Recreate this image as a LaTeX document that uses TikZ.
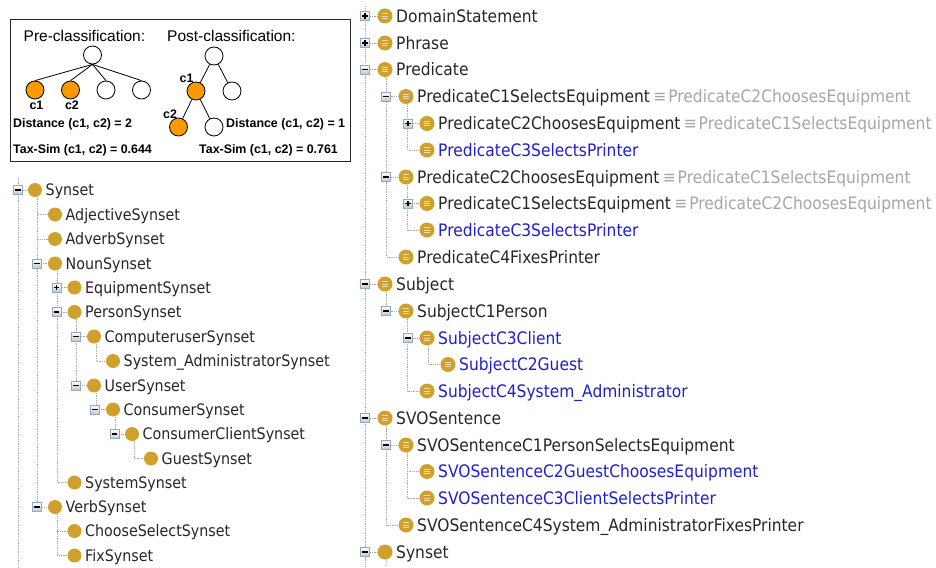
\documentclass[tikz,border=0pt]{standalone}
\usepackage{fontspec}
\setmainfont{Liberation Sans}
\newfontfamily\treefont[FakeStretch=0.9]{DejaVu Sans}
\usetikzlibrary{backgrounds}
\definecolor{gold}{HTML}{CFA02C}
\definecolor{txt}{HTML}{262626}
\definecolor{linkblue}{HTML}{1E1ED2}
\definecolor{eqgrey}{HTML}{A6A6A6}
\definecolor{treeline}{HTML}{A8A8A8}
\definecolor{boxblue}{HTML}{8FA9C4}
\definecolor{ringorange}{HTML}{FA9A00}
\tikzset{
  bul/.style={circle,fill=gold,minimum size=14pt,inner sep=0pt},
  ltext/.style={anchor=base west,inner sep=0pt,text=txt,font=\treefont\fontsize{15.85}{18}\selectfont},
  rtext/.style={anchor=base west,inner sep=0pt,text=txt,font=\treefont\fontsize{17.2}{20}\selectfont},
  expbox/.style={rectangle,draw=boxblue,line width=.8pt,top color=white,bottom color=black!22,minimum size=9pt,inner sep=0pt},
  conn/.style={draw=treeline,densely dotted,line width=.8pt},
  bar/.style={line width=1.5pt,black},
  ring/.style={circle,draw=black,line width=.8pt,minimum size=18pt,inner sep=0pt},
  ringo/.style={ring,fill=ringorange},
  arm/.style={draw=black,line width=.8pt},
  ptitle/.style={anchor=base west,inner sep=0pt,font=\fontsize{15.5}{17}\selectfont},
  pbold/.style={anchor=base west,inner sep=0pt,font=\bfseries\fontsize{12.4}{14}\selectfont},
  pclab/.style={inner sep=0pt,font=\bfseries\fontsize{12.4}{14}\selectfont}
}
% expanders: name, x, y
\newcommand{\expM}[3]{\node[expbox] (#1) at (#2,#3) {};\draw[bar] ([xshift=-2.8pt]#1.center) -- ([xshift=2.8pt]#1.center);}
\newcommand{\expP}[3]{\node[expbox] (#1) at (#2,#3) {};\draw[bar] ([xshift=-2.8pt]#1.center) -- ([xshift=2.8pt]#1.center) ([yshift=-2.8pt]#1.center) -- ([yshift=2.8pt]#1.center);}
% left class: name, x, y, text
\newcommand{\lcls}[4]{\node[bul] (#1) at (#2,#3) {};\node[ltext] (#1-t) at (#2+10.5,#3+5.7) {#4};}
% right class: name, x, y, text
\newcommand{\rbul}[3]{\node[bul,minimum size=15pt] (#1) at (#2,#3) {};
  \foreach \dy in {-2.4,0,2.4}{\draw[line width=.9pt,color=gold!35!white] ([xshift=-3pt,yshift=\dy pt]#1.center) -- ([xshift=3pt,yshift=\dy pt]#1.center);}}
\newcommand{\rcls}[5][txt]{\rbul{#2}{#3}{#4}\node[rtext,text=#1] (#2-t) at (#3+11,#4+6.4) {#5};}
\newcommand{\req}[2]{\node[rtext,text=eqgrey,anchor=base west] (#1-e) at ([xshift=3pt]#1-t.base east) {≡\hspace{-3pt} #2};}
\begin{document}
\begin{tikzpicture}[x=1pt,y=-1pt]
\useasboundingbox (0,0) rectangle (936,567);
% panel
\node[draw=black!85,line width=1pt,minimum width=339.5pt,minimum height=141.5pt,inner sep=0pt] (panel) at (180.25,90.25) {};
\node[ptitle] (pretitle) at (23.5,41.5) {Pre-classification:};
\node[ptitle] (posttitle) at (167,41.5) {Post-classification:};
\node[ring] (a0) at (92.5,55) {};
\node[ringo] (a1) at (35,90) {};
\node[ringo] (a2) at (70.5,90) {};
\node[ring] (a3) at (106,90) {};
\node[ring] (a4) at (141.5,90) {};
\foreach \c in {a1,a2,a3,a4}{\draw[arm] (a0.south) -- (\c.north);}
\node[pclab] (la1) at (36.5,105.5) {c1};
\node[pclab] (la2) at (72,105.5) {c2};
\node[pbold] (da) at (13,127.5) {Distance (c1, c2) = 2};
\node[pbold] (ta) at (13,153.5) {Tax-Sim (c1, c2) = 0.644};
\node[ring] (b0) at (214,56) {};
\node[ringo] (b1) at (196,91) {};
\node[ring] (b2) at (232,91) {};
\node[ringo] (b3) at (178.5,127) {};
\node[ring] (b4) at (214,127) {};
\draw[arm] (b0) -- (b1); \draw[arm] (b0) -- (b2);
\draw[arm] (b1) -- (b3); \draw[arm] (b1) -- (b4);
\node[pclab] (lb1) at (186.5,78) {c1};
\node[pclab] (lb3) at (170,114) {c2};
\node[pbold] (db) at (226,127.5) {Distance (c1, c2) = 1};
\node[pbold] (tb) at (199,153.5) {Tax-Sim (c1, c2) = 0.761};
% left tree
\coordinate (ltop) at (18,178);
\coordinate (lbot) at (18,567);
\lcls{syn}{35}{190}{Synset}
\lcls{adj}{55}{214.5}{AdjectiveSynset}
\lcls{adv}{55}{239}{AdverbSynset}
\lcls{noun}{55}{263.5}{NounSynset}
\lcls{equ}{74.5}{287.5}{EquipmentSynset}
\lcls{per}{74.5}{312}{PersonSynset}
\lcls{com}{94}{336.5}{ComputeruserSynset}
\lcls{sys}{113}{361}{System\_AdministratorSynset}
\lcls{use}{94}{385.5}{UserSynset}
\lcls{con}{113}{409.5}{ConsumerSynset}
\lcls{cli}{132}{434}{ConsumerClientSynset}
\lcls{gue}{151}{458.5}{GuestSynset}
\lcls{ssy}{74.5}{482.5}{SystemSynset}
\lcls{ver}{55}{507}{VerbSynset}
\lcls{cho}{74.5}{531}{ChooseSelectSynset}
\lcls{fix}{74.5}{555.5}{FixSynset}
\expM{xsyn}{18}{190}
\expM{xnoun}{37}{263.5}
\expP{xequ}{56.5}{287.5}
\expM{xper}{56.5}{312}
\expM{xcom}{76}{336.5}
\expM{xuse}{76}{385.5}
\expM{xcon}{95}{409.5}
\expM{xcli}{114.5}{434}
\expM{xver}{37}{507}
% right tree
\coordinate (rtop) at (365,6);
\coordinate (rbot) at (365,567);
\coordinate (rstub) at (386,567);
\rcls{dom}{385}{16}{DomainStatement}
\rcls{phr}{385}{43}{Phrase}
\rcls{pre}{385}{69.5}{Predicate}
\rcls{p1}{406}{96.5}{PredicateC1SelectsEquipment}
\req{p1}{PredicateC2ChoosesEquipment}
\rcls{p1a}{427}{123.5}{PredicateC2ChoosesEquipment}
\req{p1a}{PredicateC1SelectsEquipment}
\rcls[linkblue]{p1b}{427}{150}{PredicateC3SelectsPrinter}
\rcls{p2}{406}{177}{PredicateC2ChoosesEquipment}
\req{p2}{PredicateC1SelectsEquipment}
\rcls{p2a}{427}{203.5}{PredicateC1SelectsEquipment}
\req{p2a}{PredicateC2ChoosesEquipment}
\rcls[linkblue]{p2b}{427}{230}{PredicateC3SelectsPrinter}
\rcls{p4}{406}{257}{PredicateC4FixesPrinter}
\rcls{sub}{385}{284}{Subject}
\rcls{s1}{406}{311}{SubjectC1Person}
\rcls[linkblue]{s3}{427}{338}{SubjectC3Client}
\rcls[linkblue]{s2}{448}{364.5}{SubjectC2Guest}
\rcls[linkblue]{s4}{427}{391}{SubjectC4System\_Administrator}
\rcls{svo}{385}{418}{SVOSentence}
\rcls{v1}{406}{445}{SVOSentenceC1PersonSelectsEquipment}
\rcls[linkblue]{v2}{427}{471.5}{SVOSentenceC2GuestChoosesEquipment}
\rcls[linkblue]{v3}{427}{498}{SVOSentenceC3ClientSelectsPrinter}
\rcls{v4}{406}{525}{SVOSentenceC4System\_AdministratorFixesPrinter}
\node[bul,minimum size=15pt] (rsyn) at (385,552) {};
\node[rtext] (rsyn-t) at (396,558.4) {Synset};
\expP{xdom}{365}{16}
\expP{xphr}{365}{43}
\expM{xpre}{365}{69.5}
\expM{xp1}{386}{96.5}
\expP{xp1a}{408}{123.5}
\expM{xp2}{386}{177}
\expP{xp2a}{408}{203.5}
\expM{xsub}{365}{284}
\expM{xs1}{386}{311}
\expM{xs3}{408}{338}
\expM{xsvo}{365}{418}
\expM{xv1}{386}{445}
\expM{xrsyn}{365}{552}
% connectors
\begin{scope}[on background layer]
\draw[conn] (ltop) -- (lbot);
\draw[conn] (xsyn) -- (syn);
\foreach \p/\c in {syn/adj,syn/adv,syn/noun,syn/ver,noun/equ,noun/per,noun/ssy,per/com,per/use,com/sys,use/con,con/cli,cli/gue,ver/cho,ver/fix}
  {\draw[conn] ([xshift=2pt]\p.south) |- (\c.west);}
\draw[conn] (rtop) -- (rbot);
\foreach \x/\c in {xdom/dom,xphr/phr,xpre/pre,xsub/sub,xsvo/svo,xrsyn/rsyn}{\draw[conn] (\x) -- (\c);}
\foreach \p/\c in {pre/p1,pre/p2,pre/p4,p1/p1a,p1/p1b,p2/p2a,p2/p2b,sub/s1,s1/s3,s1/s4,s3/s2,svo/v1,svo/v4,v1/v2,v1/v3}
  {\draw[conn] ([xshift=1.5pt]\p.south) |- (\c.west);}
\draw[conn] ([xshift=1.5pt]rsyn.south) -- (rstub);
\end{scope}
\end{tikzpicture}
\end{document}
